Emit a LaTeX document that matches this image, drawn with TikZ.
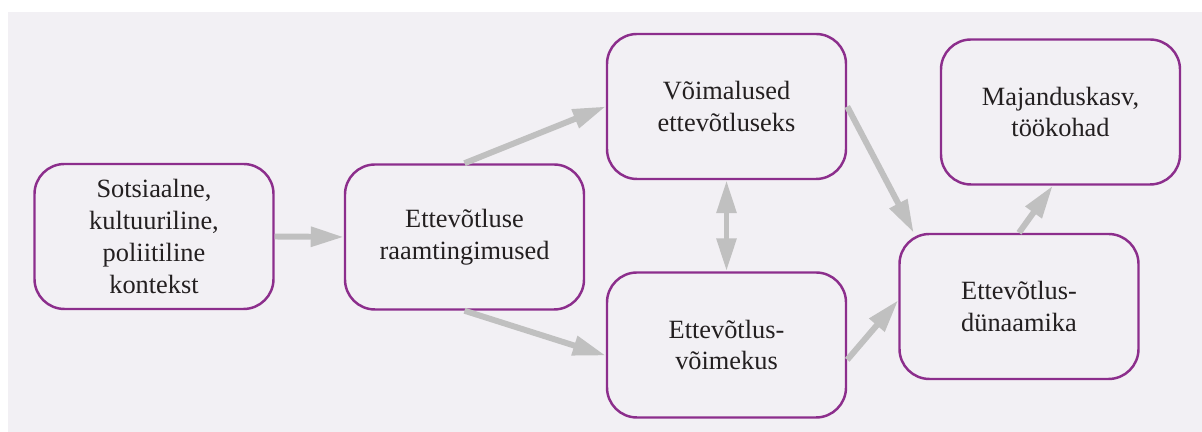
\documentclass[tikz,border=0pt]{standalone}
\usepackage{fontspec}
\setmainfont{Liberation Serif}
\usetikzlibrary{arrows.meta}

\definecolor{hatter}{RGB}{242,240,244}
\definecolor{lila}{RGB}{140,46,140}
\definecolor{nyilszurke}{RGB}{192,192,192}
\definecolor{szoveg}{RGB}{35,31,32}

\begin{document}
\begin{tikzpicture}[>={Triangle[length=0.66cm,width=0.38cm]},
		doboz/.style={draw=lila,line width=1.4pt,rectangle,rounded corners=0.6cm,
			minimum height=2.9cm,minimum width=4.78cm,align=center,text=szoveg,
			font=\fontsize{15}{18.2}\selectfont},
		nyil/.style={draw=nyilszurke,line width=3.4pt}
		]
	\useasboundingbox (0,0) rectangle (24.04,8.64);
	% Hatter
	\fill[hatter] (0.16,0) rectangle (24.04,8.40);

	% Dobozok
	% ----------------------

		% Kontekst
		\node[doboz] (Kontekst) at (3.08,3.91) {Sotsiaalne,\\kultuuriline,\\poliitiline\\kontekst};

		% Raamtingimused
		\node[doboz] (Raam) at (9.29,3.90) {Ettevõtluse\\raamtingimused};

		% Voimalused
		\node[doboz] (Voimalused) at (14.53,6.51) {Võimalused\\ettevõtluseks};

		% Voimekus
		\node[doboz] (Voimekus) at (14.53,1.74) {Ettevõtlus-\\võimekus};

		% Dunaamika
		\node[doboz] (Dunaamika) at (20.38,2.51) {Ettevõtlus-\\dünaamika};

		% Majanduskasv
		\node[doboz] (Majandus) at (21.21,6.40) {Majanduskasv,\\töökohad};

	% Nyilak
	% ----------------------
	\draw[nyil,->] (Kontekst.east) -- (Raam.west);
	\draw[nyil,->] (Raam.north) -- (Voimalused.west);
	\draw[nyil,->] (Raam.south) -- (Voimekus.185);
	\draw[nyil,<->] (Voimalused.south) -- (Voimekus.north);
	\draw[nyil,->] (Voimalused.east) -- (Dunaamika.145);
	\draw[nyil,->] (Voimekus.353) -- (Dunaamika.177);
	\draw[nyil,->] (Dunaamika.north) -- (Majandus.264);

\end{tikzpicture}
\end{document}
